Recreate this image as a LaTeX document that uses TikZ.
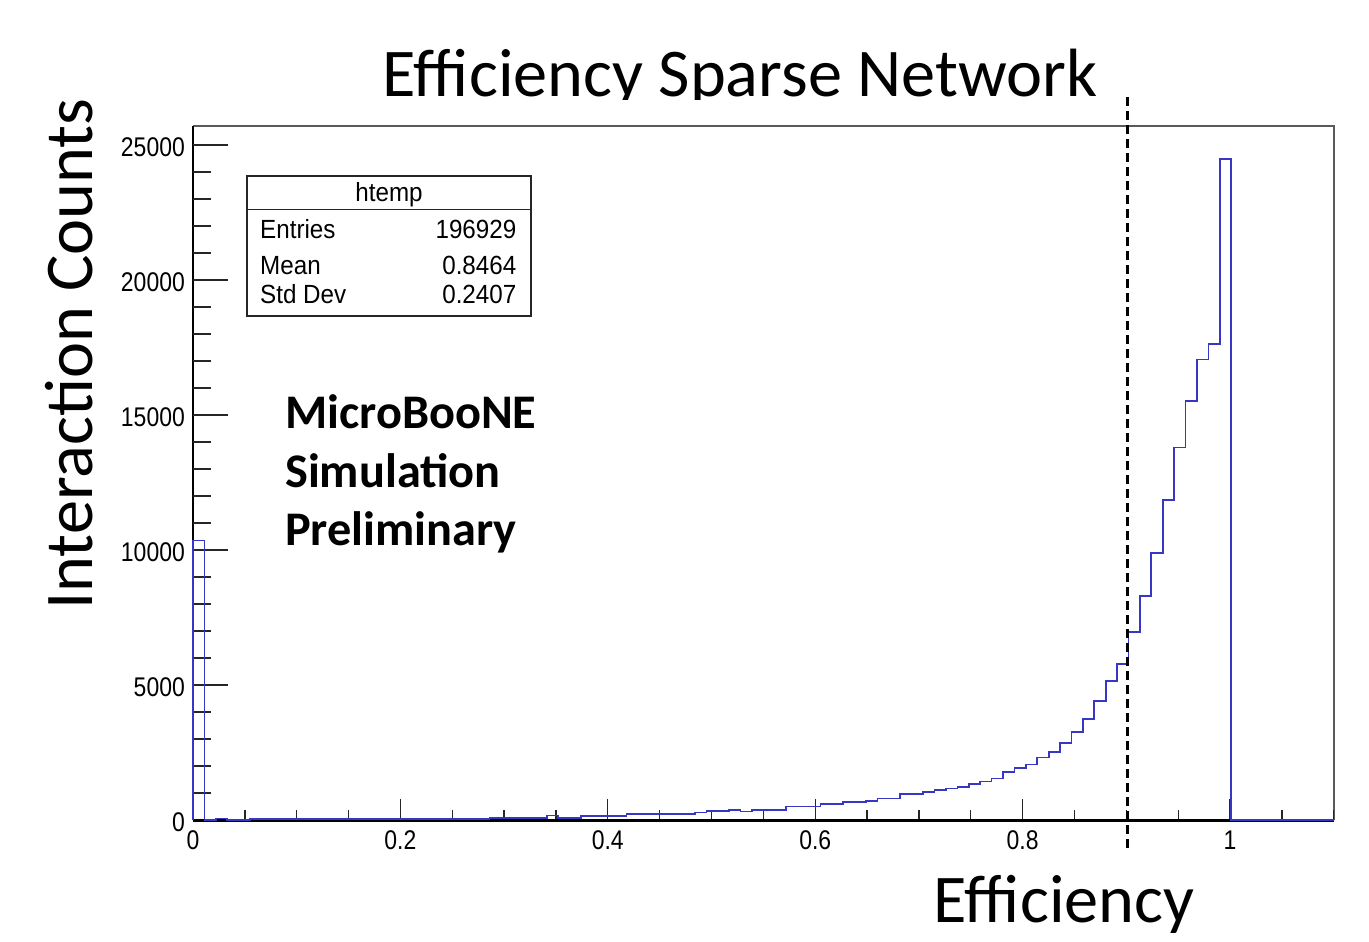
\documentclass[tikz,border=0pt]{standalone}
\usepackage{fontspec}
\setmainfont{Carlito}
\newfontfamily\tickfont[FakeStretch=0.85]{Liberation Sans}
\newfontfamily\statfont[FakeStretch=0.92]{Liberation Sans}
\definecolor{histblue}{RGB}{55,55,195}
\definecolor{framegray}{RGB}{90,90,90}
\begin{document}
\begin{tikzpicture}[x=1pt,y=-1pt,
  bigtext/.style={font=\fontsize{68.3}{80}\selectfont, inner sep=0},
  boldtext/.style={font=\fontsize{48.3}{58}\selectfont\bfseries, inner sep=0, anchor=base west},
  ylab/.style={font=\tickfont\fontsize{27}{30}\selectfont, inner sep=0, anchor=base east},
  xlab/.style={font=\tickfont\fontsize{27}{30}\selectfont, inner sep=0, anchor=base},
  stattext/.style={font=\statfont\fontsize{26.3}{30}\selectfont, inner sep=0},
  tickline/.style={draw=black!85, line width=1.3pt},
  hist/.style={draw=histblue, line width=1.7pt, line join=miter},
  cutline/.style={draw=black, line width=3pt, dash pattern=on 9pt off 5pt}
]
\useasboundingbox[fill=white] (0,0) rectangle (1369,942);

% title (clipped at the top of the plot image)
\begin{scope}
  \clip (0,0) rectangle (1369,100);
  \node[bigtext, anchor=base] (title) at (740,96) {Efficiency Sparse Network};
\end{scope}

% axis titles
\node[bigtext, anchor=base, rotate=90] (ytitle) at (92,354) {Interaction Counts};
\node[bigtext, anchor=base] (xtitle) at (1064,922) {Efficiency};

% frame
\coordinate (o) at (193,820);
\coordinate (tl) at (193,126);
\coordinate (tr) at (1334,126);
\coordinate (br) at (1334,820);
\draw[framegray, line width=1.5pt] (tl) -- (tr) -- (br);
\draw[black, line width=1.8pt] (o) -- (tl);

% x ticks
\foreach \i in {0,...,22}{
  \pgfmathsetmacro{\xx}{193+\i*51.85}
  \pgfmathsetmacro{\len}{ifthenelse(mod(\i,4)==0,21,10)}
  \draw[tickline] (\xx,820) -- (\xx,820-\len);
}
% y ticks
\foreach \j in {0,...,25}{
  \pgfmathsetmacro{\yy}{820-\j*27}
  \pgfmathsetmacro{\len}{ifthenelse(mod(\j,5)==0,35,18)}
  \draw[tickline] (193,\yy) -- (193+\len,\yy);
}
\draw[black, line width=3pt] (o) -- (br);

% tick labels
\foreach \v/\lab in {0/0,1/5000,2/10000,3/15000,4/20000,5/25000}{
  \node[ylab] (yl\v) at (185,{820-\v*135+11}) {\lab};
}
\foreach \v/\lab in {0/0,1/0.2,2/0.4,3/0.6,4/0.8,5/1}{
  \node[xlab] (xl\v) at ({193+\v*207.4},849) {\lab};
}

% histogram
\begin{scope}[shift={(193pt,-820pt)}, x=1037pt, y=27pt]
  \draw[hist] (0,0)
    foreach \c [count=\i from 0] in {10.35,0,0.06,0,0,
      0.035,0.035,0.035,0.035,0.035,0.035,0.035,0.035,0.035,0.035,0.035,0.035,0.035,0.035,0.035,0.035,0.035,0.035,0.035,0.035,0.035,
      0.08,0.08,0.08,0.08,0.08,0.165,0.08,0.08,0.155,0.155,0.155,0.155,
      0.22,0.22,0.22,0.22,0.22,0.22,0.28,0.34,0.34,0.37,0.31,0.38,0.38,0.38,
      0.50,0.50,0.50,0.59,0.59,0.67,0.67,0.71,0.80,0.80,0.96,0.96,
      1.05,1.11,1.17,1.23,1.33,1.43,1.54,1.77,1.93,2.06,2.31,2.53,2.84,3.27,3.73,4.41,
      5.14,5.77,6.97,8.30,9.90,11.85,13.80,15.52,17.06,17.62,24.48,
      0,0,0,0,0,0,0,0,0}
    { -- ({\i*0.011},\c) -- ({(\i+1)*0.011},\c) } -- (1.1,0);
\end{scope}

% cut line
\coordinate (dtop) at (1127,97);
\coordinate (dbot) at (1127,850);
\draw[cutline] (dtop) -- (dbot);

% stats box
\coordinate (s1) at (247,176);
\coordinate (s2) at (531,316);
\coordinate (h1) at (247,209.5);
\coordinate (h2) at (531,209.5);
\draw[black!85, line width=1.2pt] (s1) rectangle (s2);
\draw[black!85, line width=1.2pt] (h1) -- (h2);
\node[stattext, anchor=base] (htemp) at (389,201) {htemp};
\node[stattext, anchor=base west] (ent) at (260,238.5) {Entries};
\node[stattext, anchor=base east] (entv) at (516.5,238.5) {196929};
\node[stattext, anchor=base west] (mean) at (260,274) {Mean};
\node[stattext, anchor=base east] (meanv) at (516.5,274) {0.8464};
\node[stattext, anchor=base west] (std) at (260,303.5) {Std Dev};
\node[stattext, anchor=base east] (stdv) at (516.5,303.5) {0.2407};

% MicroBooNE label
\node[boldtext] (mb1) at (285,428) {MicroBooNE};
\node[boldtext] (mb2) at (285,487) {Simulation};
\node[boldtext] (mb3) at (285,545) {Preliminary};
\end{tikzpicture}
\end{document}
